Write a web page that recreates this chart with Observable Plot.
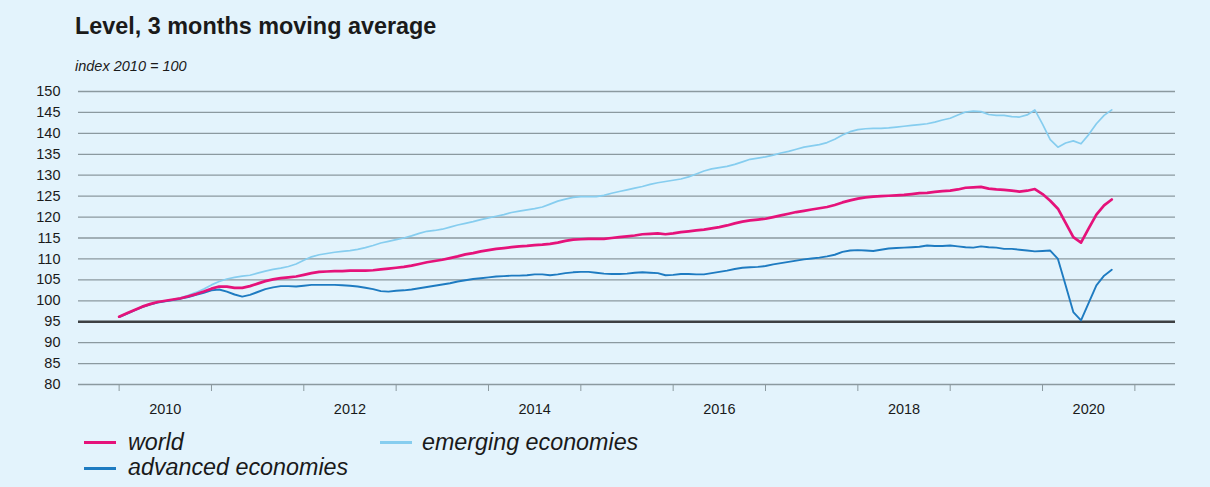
<!DOCTYPE html>
<html>
<head>
<meta charset="utf-8">
<script src="https://cdn.jsdelivr.net/npm/d3@7"></script>
<script src="https://cdn.jsdelivr.net/npm/@observablehq/plot@0.6"></script>
<style>
  html, body { margin: 0; padding: 0; }
  body { width: 1210px; height: 487px; background: #e3f3fc; position: relative; overflow: hidden;
         font-family: "Liberation Sans", Arial, Helvetica, sans-serif; color: #1a1a1a; }
  .abs { position: absolute; white-space: nowrap; }
  #title { left: 75px; top: 15.3px; font-size: 23.4px; line-height: 23.4px; font-weight: bold; }
  #subtitle { left: 75px; top: 58.7px; font-size: 14.5px; line-height: 14.5px; font-style: italic; }
  #chart { position: absolute; left: 0; top: 80px; }
  .lg { font-size: 23.3px; line-height: 23.3px; font-style: italic; }
  .sw { position: absolute; height: 3px; }
</style>
</head>
<body>
<div id="title" class="abs">Level, 3 months moving average</div>
<div id="subtitle" class="abs">index 2010 = 100</div>
<div id="chart"></div>
<div id="legend"></div>
<script>
// Monthly values, January 2010 .. October 2020 (3 months moving average, index 2010 = 100)
const startYear = 2010;
const seriesNames = ["world", "advanced economies", "emerging economies"];
const world = [
  96.2, 97.0, 97.8, 98.6, 99.2, 99.7, 100.0, 100.3, 100.6, 101.1, 101.6, 102.2,
  102.9, 103.4, 103.4, 103.1, 103.1, 103.5, 104.1, 104.7, 105.1, 105.4, 105.6, 105.8,
  106.2, 106.6, 106.9, 107.0, 107.1, 107.1, 107.2, 107.2, 107.2, 107.3, 107.5, 107.7,
  107.9, 108.1, 108.4, 108.8, 109.2, 109.5, 109.8, 110.2, 110.6, 111.1, 111.4, 111.8,
  112.1, 112.4, 112.6, 112.8, 113.0, 113.1, 113.3, 113.4, 113.6, 113.9, 114.3, 114.6,
  114.7, 114.8, 114.8, 114.8, 115.0, 115.2, 115.4, 115.6, 115.9, 116.0, 116.1, 115.9,
  116.1, 116.4, 116.6, 116.8, 117.0, 117.3, 117.6, 118.0, 118.5, 118.9, 119.2, 119.4,
  119.6, 120.0, 120.4, 120.8, 121.2, 121.5, 121.8, 122.1, 122.4, 122.9, 123.5, 124.0,
  124.4, 124.7, 124.9, 125.0, 125.1, 125.2, 125.3, 125.5, 125.7, 125.8, 126.0, 126.2,
  126.3, 126.6, 127.0, 127.1, 127.2, 126.8, 126.6, 126.5, 126.3, 126.1, 126.3, 126.7,
  125.5, 123.9, 122.0, 118.6, 115.2, 113.9, 117.3, 120.6, 122.8, 124.2
];
const advanced = [
  96.1, 96.9, 97.7, 98.5, 99.1, 99.6, 99.9, 100.2, 100.5, 100.9, 101.4, 101.9,
  102.5, 102.7, 102.2, 101.5, 101.0, 101.4, 102.1, 102.8, 103.2, 103.5, 103.5, 103.4,
  103.6, 103.8, 103.8, 103.8, 103.8, 103.7, 103.6, 103.4, 103.1, 102.8, 102.3, 102.2,
  102.4, 102.5, 102.7, 103.0, 103.3, 103.6, 103.9, 104.2, 104.6, 104.9, 105.2, 105.4,
  105.6, 105.8, 105.9, 106.0, 106.0, 106.1, 106.3, 106.3, 106.1, 106.3, 106.6, 106.8,
  106.9, 106.9, 106.7, 106.5, 106.4, 106.4, 106.5, 106.7, 106.8, 106.7, 106.6, 106.1,
  106.2, 106.4, 106.4, 106.3, 106.3, 106.6, 106.9, 107.2, 107.6, 107.9, 108.0, 108.1,
  108.3, 108.7, 109.0, 109.3, 109.6, 109.9, 110.1, 110.3, 110.6, 111.0, 111.7, 112.0,
  112.1, 112.0, 111.9, 112.2, 112.5, 112.6, 112.7, 112.8, 112.9, 113.2, 113.1, 113.1,
  113.2, 113.0, 112.8, 112.7, 113.0, 112.8, 112.7, 112.4, 112.4, 112.2, 112.0, 111.8,
  111.9, 112.0, 110.0, 103.7, 97.3, 95.3, 99.5, 103.7, 106.0, 107.4
];
const emerging = [
  96.2, 97.0, 97.8, 98.6, 99.2, 99.7, 100.0, 100.3, 100.7, 101.3, 102.0, 102.8,
  103.8, 104.6, 105.2, 105.6, 105.9, 106.1, 106.6, 107.1, 107.5, 107.8, 108.2, 108.8,
  109.7, 110.5, 111.0, 111.3, 111.6, 111.8, 112.0, 112.3, 112.7, 113.2, 113.8, 114.2,
  114.6, 115.0, 115.5, 116.1, 116.6, 116.8, 117.1, 117.6, 118.1, 118.5, 118.9, 119.4,
  119.8, 120.2, 120.6, 121.1, 121.4, 121.7, 122.0, 122.4, 123.1, 123.8, 124.3, 124.7,
  124.9, 124.9, 124.9, 125.2, 125.7, 126.1, 126.5, 126.9, 127.3, 127.8, 128.2, 128.5,
  128.8, 129.1, 129.6, 130.3, 131.0, 131.5, 131.8, 132.1, 132.6, 133.2, 133.8, 134.1,
  134.4, 134.8, 135.3, 135.7, 136.2, 136.7, 137.0, 137.3, 137.8, 138.6, 139.6, 140.4,
  140.9, 141.1, 141.2, 141.2, 141.3, 141.5, 141.7, 141.9, 142.1, 142.3, 142.7, 143.2,
  143.6, 144.4, 145.1, 145.3, 145.2, 144.5, 144.3, 144.3, 144.0, 143.9, 144.4, 145.6,
  142.2, 138.5, 136.7, 137.7, 138.2, 137.5, 139.7, 142.3, 144.3, 145.6
];
const yTicks = [80, 85, 90, 95, 100, 105, 110, 115, 120, 125, 130, 135, 140, 145, 150];
const yearTicks = [2010, 2011, 2012, 2013, 2014, 2015, 2016, 2017, 2018, 2019, 2020, 2021];
const yearLabels = [2010, 2012, 2014, 2016, 2018, 2020];
const colors = { "world": "#e5127a", "advanced economies": "#1e7bc1", "emerging economies": "#86cdef" };

const toRows = (name, vals) => vals.map((v, i) => ({ series: name, t: startYear + i / 12, v }));
const rowsWorld = toRows("world", world);
const rowsAdv = toRows("advanced economies", advanced);
const rowsEme = toRows("emerging economies", emerging);

const chart = Plot.plot({
  width: 1210,
  height: 345,
  marginLeft: 78,
  marginRight: 35,
  marginTop: 11,
  marginBottom: 41,
  style: { background: "transparent", fontFamily: "'Liberation Sans', Arial, Helvetica, sans-serif", fontSize: "14.5px", color: "#1a1a1a" },
  x: { domain: [2009.56, 2021.44], label: null },
  y: { domain: [80, 150], label: null },
  marks: [
    Plot.ruleY(yTicks.filter(d => d !== 95), { stroke: "#8b999f", strokeWidth: 1.3 }),
    Plot.ruleY([95], { stroke: "#3d4042", strokeWidth: 2.4 }),
    Plot.axisY(yTicks, { tickSize: 0, tickPadding: 18, label: null, fontSize: 14.5 }),
    Plot.axisX(yearTicks, { tickSize: 7, tickFormat: () => "", stroke: "#8b999f", label: null }),
    Plot.axisX(yearLabels.map(y => y + 0.5), { tickSize: 0, tickPadding: 19, tickFormat: d => String(Math.floor(d)), label: null, fontSize: 14.5 }),
    Plot.line(rowsEme, { x: "t", y: "v", stroke: colors["emerging economies"], strokeWidth: 1.7 }),
    Plot.line(rowsAdv, { x: "t", y: "v", stroke: colors["advanced economies"], strokeWidth: 1.9 }),
    Plot.line(rowsWorld, { x: "t", y: "v", stroke: colors["world"], strokeWidth: 2.7 })
  ]
});
document.getElementById("chart").appendChild(chart);

// Legend
const legendItems = [
  { name: seriesNames[0], sx: 84, tx: 128, row: 0 },
  { name: seriesNames[2], sx: 380, tx: 422, row: 0 },
  { name: seriesNames[1], sx: 84, tx: 128, row: 1 }
];
const lg = document.getElementById("legend");
legendItems.forEach(it => {
  const sw = document.createElement("div");
  sw.className = "sw";
  sw.style.left = it.sx + "px";
  sw.style.width = "32px";
  sw.style.top = (441 + it.row * 26) + "px";
  sw.style.background = colors[it.name];
  lg.appendChild(sw);
  const t = document.createElement("div");
  t.className = "abs lg";
  t.style.left = it.tx + "px";
  t.style.top = (431.3 + it.row * 25) + "px";
  t.textContent = it.name;
  lg.appendChild(t);
});
</script>
</body>
</html>
